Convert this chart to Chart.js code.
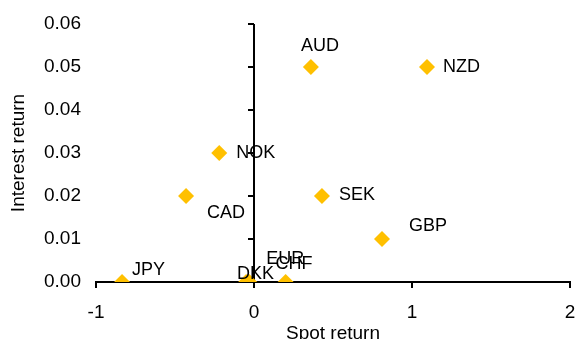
<html lang="en">
<head>
  <meta charset="utf-8" />
  <title>Spot vs interest return</title>
  <style>
    * { margin: 0; padding: 0; box-sizing: border-box; }
    body { background: #ffffff; }
    .wrapper { width: 576px; height: 339px; position: relative; }
  </style>
</head>
<body>
  <div class="wrapper">
    <canvas id="chart"></canvas>
  </div>
  <script src="https://cdn.jsdelivr.net/npm/chart.js"></script>
  <script>
    const currencies = ["JPY", "CAD", "NOK", "DKK", "EUR", "CHF", "AUD", "NZD", "SEK", "GBP"];
    const spotReturn = [-0.835, -0.43, -0.22, -0.05, -0.03, 0.2, 0.36, 1.095, 0.43, 0.81];
    const interestReturn = [0, 0.02, 0.03, 0, 0, 0, 0.05, 0.05, 0.02, 0.01];
    const xTicks = [-1, 0, 1, 2];
    const yTicks = [0, 0.01, 0.02, 0.03, 0.04, 0.05, 0.06];

    // label placement next to each marker (left edge of text, vertical centre)
    const labelOffsets = [
      [10, -12], [21, 17], [17, 0], [-9, -8], [17, -23],
      [-10, -18], [-10, -21], [16, 0], [17, -1], [27, -13]
    ];

    const FONT = "'Liberation Sans', Arial, sans-serif";
    const gold = "#FFC000";

    // vertical axis crossing at spot return = 0
    const zeroAxis = {
      id: "zeroAxis",
      beforeDatasetsDraw(chart) {
        const { ctx, scales: { x, y } } = chart;
        const px = x.getPixelForValue(0);
        ctx.save();
        ctx.strokeStyle = "#000";
        ctx.lineWidth = 2;
        ctx.beginPath();
        ctx.moveTo(px, y.getPixelForValue(yTicks[yTicks.length - 1]));
        ctx.lineTo(px, y.getPixelForValue(0));
        for (const t of yTicks) {
          const py = y.getPixelForValue(t);
          ctx.moveTo(px - 6, py);
          ctx.lineTo(px, py);
        }
        ctx.stroke();
        ctx.restore();
      }
    };

    const pointLabels = {
      id: "pointLabels",
      afterDatasetsDraw(chart) {
        const { ctx } = chart;
        const meta = chart.getDatasetMeta(0);
        ctx.save();
        ctx.fillStyle = "#000";
        ctx.font = "18px " + FONT;
        ctx.textAlign = "left";
        ctx.textBaseline = "middle";
        meta.data.forEach((pt, i) => {
          const [dx, dy] = labelOffsets[i];
          ctx.fillText(currencies[i], pt.x + dx, pt.y + dy);
        });
        ctx.restore();
      }
    };

    new Chart(document.getElementById("chart"), {
      type: "scatter",
      data: {
        datasets: [{
          data: spotReturn.map((v, i) => ({ x: v, y: interestReturn[i] })),
          backgroundColor: gold,
          borderWidth: 0,
          pointStyle: "rectRot",
          pointRadius: 8,
          pointHoverRadius: 8
        }]
      },
      options: {
        responsive: true,
        maintainAspectRatio: false,
        animation: false,
        layout: { autoPadding: false, padding: { top: 24, right: 6, left: 0, bottom: 0 } },
        plugins: {
          legend: { display: false },
          tooltip: { enabled: false }
        },
        scales: {
          x: {
            type: "linear",
            min: -1,
            max: 2,
            afterBuildTicks: (s) => { s.ticks = xTicks.map(v => ({ value: v })); },
            afterFit: (s) => { s.height = 57; s.paddingLeft = 0; s.paddingRight = 0; },
            grid: { drawOnChartArea: false, drawTicks: true, tickLength: 6, color: "#000", lineWidth: 2 },
            border: { display: true, color: "#000", width: 2 },
            ticks: { color: "#000", font: { family: FONT, size: 19 }, padding: 13 },
            title: {
              display: true, text: "Spot return", color: "#000",
              font: { family: FONT, size: 19 }, padding: { top: 0, bottom: -6 }
            }
          },
          y: {
            type: "linear",
            min: 0,
            max: 0.06,
            afterBuildTicks: (s) => { s.ticks = yTicks.map(v => ({ value: v })); },
            afterFit: (s) => { s.width = 96; s.paddingTop = 0; s.paddingBottom = 0; },
            grid: { display: false, drawTicks: false },
            border: { display: false },
            ticks: {
              color: "#000", font: { family: FONT, size: 19 }, padding: 15,
              callback: (v) => v.toFixed(2)
            },
            title: {
              display: true, text: "Interest return", color: "#000",
              font: { family: FONT, size: 19 }, padding: { top: 7, bottom: 0 }
            }
          }
        }
      },
      plugins: [zeroAxis, pointLabels]
    });
  </script>
</body>
</html>
